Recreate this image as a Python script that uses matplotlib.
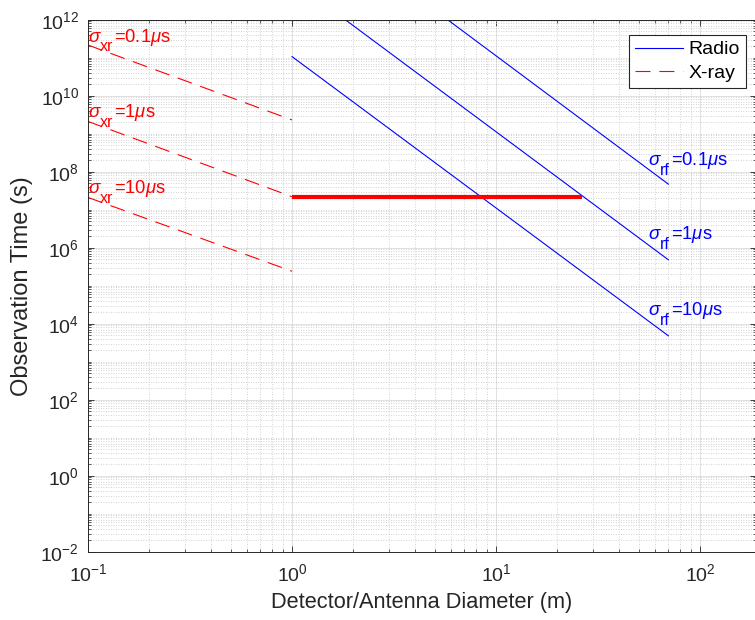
import matplotlib
matplotlib.use("Agg")
import matplotlib.pyplot as plt
from matplotlib.ticker import FixedLocator, NullFormatter
import numpy as np

plt.rcParams['font.family'] = ['Liberation Sans', 'DejaVu Sans']
plt.rcParams['mathtext.fontset'] = 'custom'
plt.rcParams['mathtext.rm'] = 'Liberation Sans'
plt.rcParams['mathtext.it'] = 'Liberation Sans:italic'
plt.rcParams['mathtext.default'] = 'regular'

# ---- data ----
diam_radio = [1.0, 70.0]
radio_sig01 = [1.12e15, 4.7e7]
radio_sig1 = [1.1e13, 4.8e5]
radio_sig10 = [1.07e11, 4.8e3]

diam_xray = [0.1, 1.0]
xray_sig01 = [2.15e11, 2.3e9]
xray_sig1 = [2.1e9, 2.2e7]
xray_sig10 = [2.1e7, 2.4e5]

diam_target = [1.0, 26.5]
time_target = [2.2e7, 2.2e7]

sigma_values = ['0.1', '1', '10']
radio_sub = 'rf'
xray_sub = 'xr'

W, H = 755, 620
fig = plt.figure(figsize=(W / 100, H / 100), dpi=100)
left, right, top, bottom = 88, 755.5, 19.7, 551.7
ax = fig.add_axes([left / W, 1 - bottom / H, (right - left) / W, (bottom - top) / H])
ax.set_xscale('log')
ax.set_yscale('log')
ax.set_xlim(0.1, 10 ** ((right - 292) / 204))
ax.set_ylim(1e-2, 1e12)

blue = '#0000ff'
red = '#ff0000'
lw = 0.8
dash = (13.5, 8)
ax.plot(diam_radio, radio_sig01, color=blue, lw=lw, label='Radio')
ax.plot(diam_radio, radio_sig1, color=blue, lw=lw)
ax.plot(diam_radio, radio_sig10, color=blue, lw=lw)
ax.plot(diam_xray, xray_sig01, color=red, lw=lw, dashes=dash, label='X-ray')
ax.plot(diam_xray, xray_sig1, color=red, lw=lw, dashes=dash)
ax.plot(diam_xray, xray_sig10, color=red, lw=lw, dashes=dash)
ax.plot(diam_target, time_target, color=red, lw=3, solid_capstyle='butt')


def sigma_label(x, y, sub, val, color, fs=13.2, sfs=11.5, drop=7.0):
    t1 = ax.text(x, y, '\u03c3', fontsize=fs + 0.3, color=color, fontstyle='italic',
                 ha='left', va='baseline')
    t2 = ax.annotate(sub, xy=(1, y), xycoords=(t1, 'data'), xytext=(0.2, -drop),
                     textcoords='offset points', fontsize=sfs, color=color,
                     ha='left', va='baseline')
    ax.annotate(val + r'$\mathit{\mu}$s', xy=(1, y), xycoords=(t2, 'data'),
                xytext=(0.8, 0), textcoords='offset points', fontsize=fs, color=color,
                ha='left', va='baseline')


for val, yb in zip(sigma_values, [10 ** 11.42, 10 ** 9.43, 10 ** 7.43]):
    sigma_label(0.1, yb, xray_sub, '=' + val, red)
for val, yb in zip(sigma_values, [10 ** 8.18, 10 ** 6.22, 10 ** 4.23]):
    sigma_label(55.8, yb, radio_sub, '=' + val, blue)

# ticks
ax.yaxis.set_major_locator(FixedLocator([10.0 ** e for e in range(-2, 13, 2)]))
ymin = [m * 10.0 ** e for e in range(-2, 12) for m in range(1, 10)
        if not (m == 1 and e % 2 == 0)]
ax.yaxis.set_minor_locator(FixedLocator(ymin))
ax.yaxis.set_minor_formatter(NullFormatter())
ax.xaxis.set_major_locator(FixedLocator([10.0 ** e for e in range(-1, 3)]))
xmin = [m * 10.0 ** e for e in range(-1, 3) for m in range(2, 10)]
ax.xaxis.set_minor_locator(FixedLocator(xmin))
ax.xaxis.set_minor_formatter(NullFormatter())

ax.tick_params(which='both', direction='in', top=True, right=True, colors='#262626',
               labelcolor='#262626', labelsize=14)
ax.tick_params(which='major', length=4, width=0.6)
ax.tick_params(which='minor', length=2.5, width=0.5)
ax.tick_params(axis='y', which='major', pad=6.5)
ax.tick_params(axis='x', which='major', pad=8.5)

ax.grid(which='major', color='#dcdcdc', lw=0.6, ls='-')
ax.grid(which='minor', color='#c4c4c4', lw=0.6, ls=(0, (1, 2)))
ax.set_axisbelow(True)
for s in ax.spines.values():
    s.set_color('#262626')
    s.set_linewidth(0.7)

ax.set_xlabel('Detector/Antenna Diameter (m)', fontsize=15.7, color='#262626', labelpad=5)
ax.set_ylabel('Observation Time (s)', fontsize=17, color='#262626', labelpad=5)

leg = ax.legend(loc='upper right', bbox_to_anchor=((746 - left) / (right - left), (bottom - 35) / (bottom - top)),
                borderaxespad=0, fontsize=14, fancybox=False, framealpha=1,
                edgecolor='#262626', handlelength=2.45, handletextpad=0.3, borderpad=0.3,
                labelspacing=0.3)
leg.get_frame().set_linewidth(0.8)

fig.savefig('out.png', dpi=100)
